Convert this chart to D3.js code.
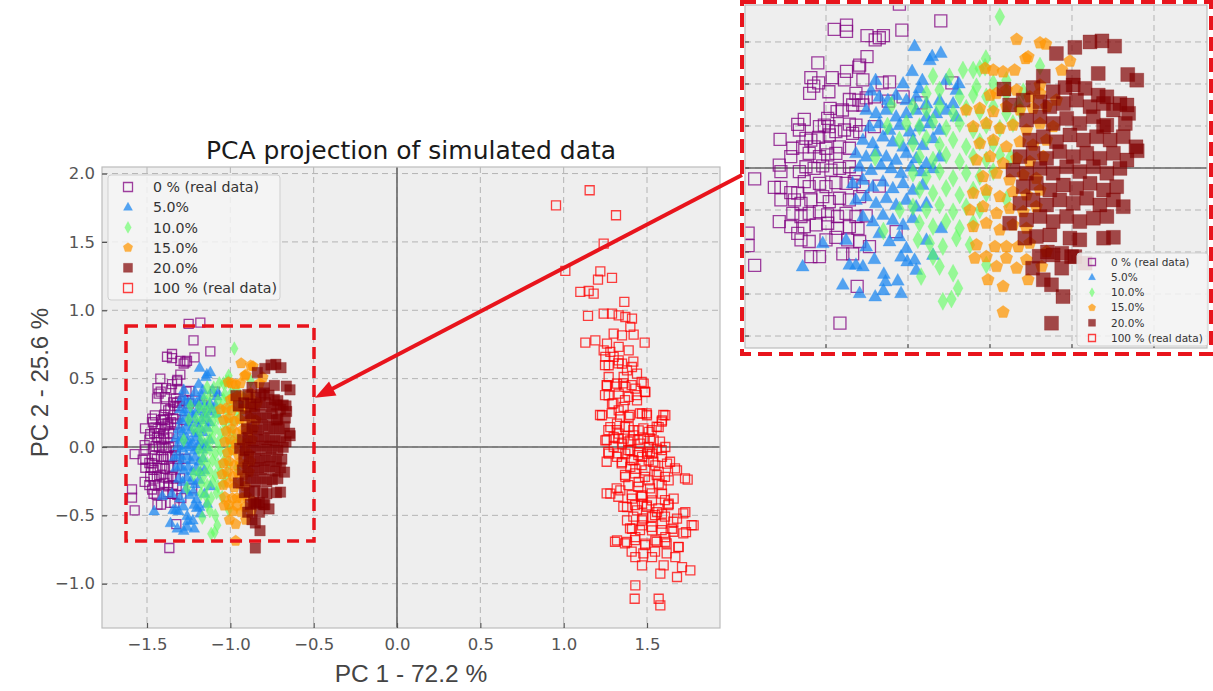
<!DOCTYPE html>
<html>
<head>
<meta charset="utf-8">
<script src="https://cdn.jsdelivr.net/npm/d3@7"></script>
<style>
  body { margin: 0; background: #fff; }
  svg { display: block; }
</style>
</head>
<body>
<div id="chart"></div>
<script>
// values, [PC1, PC2]
var real0 = [[-1.221,0.78],[-1.38,0.66],[-1.35,0.68],[-1.35,0.65],[-1.30,0.63],[-1.26,0.63],[-1.28,0.61],[-1.27,0.62],[-1.215,0.656],[-1.12,0.70],
  [-1.30,0.53],[-1.42,0.50],[-1.32,0.48],[-1.318,0.49],[-1.35,0.46],[-1.437,0.43],[-1.385,0.43],[-1.355,0.42],[-1.31,0.42],[-1.418,0.405],
  [-1.43,0.39],[-1.44,0.355],[-1.393,0.363],[-1.263,0.405],[-1.245,0.41],[-1.093,0.405],[-1.327,0.355],[-1.343,0.326],[-1.32,0.323],[-1.302,0.334],
  [-1.282,0.339],[-1.248,0.318],[-1.212,0.339],[-1.335,0.30],[-1.31,0.30],[-1.168,0.31],[-1.39,0.284],[-1.373,0.268],[-1.36,0.276],[-1.453,0.231],
  [-1.469,0.208],[-1.396,0.236],[-1.393,0.197],[-1.416,0.197],[-1.404,0.204],[-1.343,0.209],[-1.327,0.204],[-1.282,0.197],[-1.465,0.181],[-1.512,0.136],
  [-1.449,0.141],[-1.437,0.133],[-1.418,0.146],[-1.392,0.157],[-1.376,0.173],[-1.355,0.181],[-1.335,0.165],[-1.318,0.173],[-1.481,0.094],[-1.457,0.101],
  [-1.429,0.101],[-1.40,0.094],[-1.367,0.101],[-1.343,0.094],[-1.376,0.07],[-1.486,0.054],[-1.441,0.07],[-1.416,0.054],[-1.396,0.062],[-1.514,0.014],
  [-1.51,-0.017],[-1.465,-0.017],[-1.449,0.006],[-1.429,-0.002],[-1.408,0.01],[-1.388,-0.01],[-1.367,-0.002],[-1.343,0.006],[-1.327,-0.025],[-1.574,-0.052],
  [-1.526,-0.092],[-1.51,-0.092],[-1.486,-0.117],[-1.469,-0.12],[-1.453,-0.065],[-1.441,-0.089],[-1.416,-0.073],[-1.40,-0.089],[-1.376,-0.07],[-1.351,-0.073],
  [-1.331,-0.065],[-1.31,-0.089],[-1.51,-0.152],[-1.477,-0.152],[-1.461,-0.168],[-1.437,-0.152],[-1.408,-0.136],[-1.392,-0.16],[-1.367,-0.144],[-1.343,-0.152],
  [-1.318,-0.136],[-1.481,-0.216],[-1.461,-0.231],[-1.441,-0.216],[-1.416,-0.208],[-1.396,-0.223],[-1.372,-0.231],[-1.351,-0.216],[-1.327,-0.231],[-1.302,-0.228],
  [-1.514,-0.255],[-1.486,-0.279],[-1.453,-0.279],[-1.424,-0.271],[-1.396,-0.263],[-1.372,-0.287],[-1.343,-0.279],[-1.322,-0.287],[-1.469,-0.311],[-1.461,-0.342],
  [-1.441,-0.35],[-1.40,-0.342],[-1.376,-0.33],[-1.347,-0.342],[-1.294,-0.374],[-1.437,-0.422],[-1.416,-0.422],[-1.359,-0.409],[-1.335,-0.409],[-1.574,-0.464],
  [-1.324,-0.564],[-1.366,-0.739],[-1.27,-0.086],[-1.229,-0.303],[-1.318,-0.35],[-1.25,0.90],[-1.18,0.91],[-1.59,-0.31],[-1.59,-0.37]];

var sim5 = [[-1.184,0.58],[-1.147,0.513],[-1.141,0.532],[-1.12,0.548],[-1.19,0.461],[-1.212,0.402],[-1.279,0.418],[-1.172,0.379],[-1.165,0.418],[-1.107,0.418],
  [-1.082,0.371],[-1.076,0.402],[-1.29,0.368],[-1.27,0.339],[-1.249,0.323],[-1.229,0.347],[-1.204,0.323],[-1.18,0.339],[-1.155,0.307],[-1.123,0.323],
  [-1.09,0.307],[-1.302,0.276],[-1.278,0.26],[-1.253,0.276],[-1.229,0.244],[-1.204,0.26],[-1.18,0.276],[-1.155,0.244],[-1.131,0.26],[-1.107,0.276],
  [-1.082,0.244],[-1.294,0.197],[-1.27,0.212],[-1.245,0.181],[-1.221,0.204],[-1.196,0.173],[-1.172,0.197],[-1.147,0.212],[-1.123,0.181],[-1.31,0.133],
  [-1.286,0.117],[-1.261,0.149],[-1.237,0.125],[-1.212,0.101],[-1.188,0.133],[-1.164,0.109],[-1.139,0.141],[-1.327,0.07],[-1.302,0.054],[-1.278,0.078],
  [-1.253,0.054],[-1.229,0.038],[-1.204,0.07],[-1.18,0.046],[-1.155,0.022],[-1.123,0.054],[-1.318,0.006],[-1.29,-0.01],[-1.266,0.014],[-1.241,-0.002],
  [-1.217,-0.025],[-1.192,0.006],[-1.168,-0.017],[-1.139,-0.002],[-1.335,-0.073],[-1.31,-0.057],[-1.286,-0.089],[-1.261,-0.065],[-1.237,-0.097],[-1.212,-0.073],
  [-1.188,-0.105],[-1.164,-0.081],[-1.327,-0.152],[-1.302,-0.136],[-1.278,-0.168],[-1.253,-0.144],[-1.229,-0.176],[-1.204,-0.152],[-1.18,-0.184],[-1.31,-0.231],
  [-1.286,-0.255],[-1.261,-0.223],[-1.237,-0.247],[-1.212,-0.271],[-1.188,-0.239],[-1.408,-0.358],[-1.351,-0.342],[-1.302,-0.374],[-1.27,-0.311],[-1.245,-0.35],
  [-1.221,-0.326],[-1.204,-0.382],[-1.457,-0.469],[-1.343,-0.461],[-1.327,-0.461],[-1.31,-0.469],[-1.282,-0.434],[-1.217,-0.422],[-1.184,-0.437],[-1.359,-0.556],
  [-1.318,-0.596],[-1.28,-0.612],[-1.26,-0.583],[-1.217,-0.596],[-1.259,-0.504],[-1.255,-0.54],[-1.225,-0.536],[-1.202,-0.445],[-1.18,-0.485],[-1.155,-0.342],
  [-1.139,-0.414],[-1.119,-0.287],[-1.155,-0.168]];

var sim10 = [[-0.976,0.72],[-1.01,0.521],[-1.012,0.48],[-1.066,0.466],[-1.041,0.466],[-1.025,0.474],[-0.878,0.485],[-1.139,0.437],[-1.099,0.434],[-1.033,0.387],
  [-0.992,0.403],[-0.96,0.418],[-1.155,0.355],[-1.123,0.371],[-1.074,0.339],[-1.041,0.347],[-1.009,0.339],[-0.96,0.355],[-0.919,0.363],[-1.188,0.292],
  [-1.155,0.276],[-1.123,0.292],[-1.09,0.26],[-1.058,0.284],[-1.025,0.268],[-0.992,0.292],[-0.96,0.26],[-0.927,0.276],[-1.204,0.212],[-1.172,0.197],
  [-1.139,0.22],[-1.107,0.189],[-1.074,0.212],[-1.041,0.181],[-1.009,0.204],[-0.976,0.189],[-0.944,0.212],[-1.221,0.133],[-1.188,0.117],[-1.155,0.141],
  [-1.123,0.109],[-1.09,0.133],[-1.058,0.101],[-1.025,0.125],[-0.992,0.117],[-1.172,0.054],[-1.139,0.038],[-1.107,0.062],[-1.074,0.03],[-1.041,0.054],
  [-1.009,0.038],[-0.976,0.062],[-1.188,-0.025],[-1.155,-0.041],[-1.123,-0.017],[-1.09,-0.049],[-1.058,-0.025],[-1.025,-0.041],[-0.992,-0.017],[-1.172,-0.105],
  [-1.139,-0.12],[-1.107,-0.097],[-1.074,-0.128],[-1.041,-0.105],[-1.009,-0.12],[-1.188,-0.184],[-1.155,-0.2],[-1.123,-0.176],[-1.09,-0.208],[-1.058,-0.184],
  [-1.025,-0.2],[-1.172,-0.263],[-1.139,-0.279],[-1.107,-0.255],[-1.074,-0.287],[-1.041,-0.263],[-1.176,-0.342],[-1.147,-0.358],[-1.115,-0.374],[-1.082,-0.334],
  [-1.049,-0.366],[-1.168,-0.517],[-1.123,-0.469],[-1.09,-0.501],[-1.078,-0.572],[-1.115,-0.635],[-1.094,-0.624],[-1.139,-0.422],[-1.009,-0.461],
  [-1.25,0.2],[-1.28,0.05],[-1.22,-0.2],[-1.26,-0.3],[-1.24,0.3],[-0.95,0.05],[-0.96,-0.15],[-0.93,0.3]];

var sim15 = [[-0.935,0.612],[-0.878,0.596],[-0.864,0.59],[-0.913,0.521],[-0.907,0.529],[-0.805,0.509],[-1.012,0.474],[-0.992,0.466],[-0.968,0.458],[-0.94,0.466],
  [-0.878,0.395],[-0.825,0.466],[-1.0,0.347],[-0.984,0.355],[-0.96,0.371],[-0.935,0.371],[-0.903,0.339],[-0.878,0.355],[-0.838,0.323],[-1.058,0.276],
  [-1.025,0.284],[-0.992,0.268],[-0.96,0.292],[-0.927,0.276],[-0.895,0.284],[-0.862,0.292],[-1.041,0.197],[-1.009,0.212],[-0.976,0.189],[-0.944,0.204],
  [-0.911,0.181],[-0.878,0.212],[-0.846,0.197],[-1.025,0.117],[-0.992,0.133],[-0.96,0.101],[-0.927,0.125],[-0.895,0.109],[-0.862,0.133],[-1.033,0.038],
  [-1.0,0.054],[-0.968,0.022],[-0.935,0.046],[-0.903,0.03],[-0.87,0.054],[-1.017,-0.041],[-0.984,-0.025],[-0.952,-0.057],[-0.919,-0.033],[-0.887,-0.049],
  [-1.041,-0.12],[-1.009,-0.105],[-0.976,-0.136],[-0.944,-0.113],[-0.911,-0.128],[-0.878,-0.105],[-1.049,-0.2],[-1.017,-0.184],[-0.984,-0.216],[-0.952,-0.192],
  [-0.919,-0.208],[-0.887,-0.184],[-1.041,-0.279],[-1.009,-0.263],[-0.976,-0.295],[-0.944,-0.271],[-0.911,-0.287],[-1.033,-0.366],[-0.988,-0.374],[-0.96,-0.374],
  [-0.931,-0.374],[-0.903,-0.358],[-0.862,-0.398],[-1.037,-0.429],[-1.009,-0.422],[-0.984,-0.469],[-0.96,-0.429],[-0.935,-0.477],[-0.911,-0.437],[-0.874,-0.469],
  [-1.005,-0.532],[-0.968,-0.564],[-0.907,-0.532],[-0.968,-0.686]];

var sim20 = [[-0.756,0.6],[-0.727,0.605],[-0.696,0.58],[-0.793,0.574],[-0.838,0.545],[-0.87,0.437],[-0.797,0.434],[-0.736,0.45],[-0.664,0.445],[-0.642,0.418],
  [-0.966,0.376],[-0.895,0.383],[-0.846,0.363],[-0.817,0.383],[-0.797,0.395],[-0.768,0.379],[-0.736,0.347],[-0.715,0.339],[-0.683,0.307],[-0.666,0.30],
  [-0.952,0.30],[-0.919,0.323],[-0.878,0.315],[-0.854,0.292],[-0.821,0.307],[-0.789,0.323],[-0.756,0.292],[-0.723,0.307],[-0.699,0.276],[-0.662,0.26],
  [-0.67,0.212],[-0.715,0.204],[-0.911,0.228],[-0.878,0.244],[-0.846,0.212],[-0.813,0.236],[-0.781,0.212],[-0.748,0.244],[-0.723,0.197],[-0.903,0.133],
  [-0.87,0.149],[-0.838,0.125],[-0.805,0.157],[-0.772,0.133],[-0.74,0.149],[-0.707,0.133],[-0.675,0.149],[-0.644,0.101],[-0.641,0.082],[-0.927,0.054],
  [-0.895,0.07],[-0.862,0.046],[-0.83,0.078],[-0.797,0.054],[-0.764,0.07],[-0.732,0.046],[-0.699,0.07],[-0.666,0.038],[-0.944,-0.01],[-0.911,-0.025],
  [-0.878,-0.002],[-0.846,-0.025],[-0.813,0.006],[-0.781,-0.017],[-0.748,0.006],[-0.715,-0.025],[-0.683,-0.002],[-0.919,-0.089],[-0.887,-0.073],[-0.854,-0.105],
  [-0.821,-0.081],[-0.789,-0.097],[-0.756,-0.073],[-0.723,-0.105],[-0.691,-0.089],[-0.675,-0.184],[-0.927,-0.168],[-0.895,-0.152],[-0.862,-0.176],[-0.83,-0.152],
  [-0.797,-0.168],[-0.764,-0.144],[-0.732,-0.176],[-0.699,-0.152],[-0.952,-0.263],[-0.911,-0.247],[-0.878,-0.231],[-0.846,-0.255],[-0.813,-0.231],[-0.781,-0.255],
  [-0.748,-0.239],[-0.715,-0.231],[-0.915,-0.334],[-0.887,-0.326],[-0.854,-0.319],[-0.805,-0.334],[-0.781,-0.342],[-0.723,-0.334],[-0.699,-0.33],[-0.846,-0.414],
  [-0.825,-0.406],[-0.801,-0.422],[-0.793,-0.422],[-0.825,-0.477],[-0.768,-0.453],[-0.896,-0.477],[-0.87,-0.532],[-0.85,-0.556],[-0.822,-0.612],[-0.85,-0.739],
  [-0.86,-0.40],[-0.88,-0.42]];

var real100 = [[1.156,1.878],[0.954,1.768],[1.314,1.695],[1.24,1.488],[1.01,1.288],[1.22,1.285],[1.206,1.224],[1.29,1.237],[1.1,1.134],[1.15,1.141],
  [1.18,1.122],[1.364,1.061],[1.146,0.959],[1.24,0.976],[1.29,0.976],[1.33,0.963],[1.37,0.951],[1.41,0.939],[1.13,0.763],[1.19,0.78],
  [1.26,0.756],[1.3,0.829],[1.35,0.817],[1.4,0.878],[1.486,0.763],[1.42,0.822],[1.24,0.707],[1.28,0.695],[1.33,0.732],[1.39,0.707],
  [1.25,0.659],[1.33,0.634],[1.27,0.598],[1.35,0.61],[1.41,0.585],[1.44,0.537],[1.26,0.451],[1.32,0.463],[1.37,0.439],[1.43,0.427],
  [1.48,0.463],[1.49,0.402],[1.27,0.378],[1.33,0.39],[1.39,0.366],[1.44,0.341],[1.23,0.232],[1.33,0.268],[1.39,0.22],[1.47,0.244],
  [1.5,0.232],[1.61,0.232],[1.59,0.195],[1.28,0.146],[1.33,0.098],[1.39,0.146],[1.45,0.122],[1.51,0.11],[1.57,0.146],[1.25,0.049],
  [1.3,0.0],[1.35,0.024],[1.4,0.049],[1.46,0.024],[1.51,0.0],[1.56,-0.012],[1.61,0.0],[1.27,-0.049],[1.32,-0.073],[1.37,-0.049],
  [1.42,-0.098],[1.47,-0.073],[1.53,-0.049],[1.59,-0.073],[1.43,-0.159],[1.49,-0.171],[1.55,-0.134],[1.62,-0.122],[1.68,-0.171],[1.744,-0.239],
  [1.37,-0.22],[1.45,-0.256],[1.51,-0.244],[1.57,-0.268],[1.63,-0.244],[1.28,-0.341],[1.34,-0.317],[1.41,-0.378],[1.47,-0.354],[1.53,-0.39],
  [1.59,-0.341],[1.66,-0.378],[1.38,-0.439],[1.44,-0.463],[1.5,-0.427],[1.56,-0.476],[1.63,-0.415],[1.73,-0.476],[1.78,-0.573],[1.68,-0.524],
  [1.734,-0.622],[1.41,-0.598],[1.47,-0.573],[1.53,-0.61],[1.59,-0.561],[1.65,-0.598],[1.32,-0.683],[1.38,-0.695],[1.43,-0.659],[1.49,-0.707],
  [1.55,-0.683],[1.61,-0.695],[1.69,-0.732],[1.43,-0.805],[1.47,-0.866],[1.53,-0.805],[1.6,-0.866],[1.67,-0.805],[1.71,-0.878],[1.76,-0.902],
  [1.58,-0.927],[1.68,-0.951],[1.43,-1.012],[1.426,-1.11],[1.57,-1.11],[1.58,-1.159],[1.3,0.073],[1.36,0.061],[1.42,0.085],[1.48,0.061],
  [1.54,0.049],[1.4,-0.024],[1.45,-0.037],[1.5,-0.049],[1.35,-0.11],[1.4,-0.146],[1.51,-0.098],[1.57,-0.183],[1.47,-0.415],[1.53,-0.512],
  [1.59,-0.488],[1.47,-0.537],[1.38,-0.537],[1.61,-0.659],[1.29,0.317],[1.36,0.293],[1.32,0.171],[1.27,0.512],[1.36,0.512],[1.3,0.659],[1.38,0.561],
  [1.248,0.599],[1.328,0.612],[1.418,0.624],[1.258,0.453],[1.308,0.441],[1.358,0.465],[1.408,0.453],[1.468,0.477],[1.488,0.404],[1.248,0.38],
  [1.298,0.319],[1.368,0.343],[1.438,0.38],[1.218,0.234],[1.288,0.246],[1.338,0.221],[1.398,0.234],[1.458,0.246],[1.498,0.246],[1.598,0.234],
  [1.588,0.185],[1.268,0.124],[1.318,0.124],[1.368,0.148],[1.418,0.124],[1.478,0.136],[1.528,0.124],[1.558,0.148],[1.258,0.051],[1.328,0.063],
  [1.388,0.039],[1.448,0.051],[1.518,0.063],[1.578,0.039],[1.268,-0.035],[1.328,-0.047],[1.388,-0.023],[1.448,-0.059],[1.518,-0.035],[1.588,-0.023],
  [1.258,-0.108],[1.348,-0.12],[1.408,-0.096],[1.468,-0.132],[1.538,-0.108],[1.638,-0.108],[1.668,-0.157],[1.368,-0.205],[1.428,-0.193],[1.488,-0.218],
  [1.558,-0.205],[1.608,-0.218],[1.728,-0.23],[1.318,-0.303],[1.388,-0.279],[1.448,-0.291],[1.518,-0.303],[1.588,-0.279],[1.258,-0.34],[1.328,-0.364],
  [1.408,-0.352],[1.468,-0.364],[1.528,-0.34],[1.608,-0.388],[1.358,-0.437],[1.428,-0.425],[1.498,-0.437],[1.568,-0.449],[1.628,-0.425],[1.418,-0.51],
  [1.478,-0.523],[1.548,-0.498],[1.608,-0.51],[1.718,-0.486],[1.658,-0.547],[1.768,-0.571],[1.398,-0.596],[1.458,-0.608],[1.528,-0.584],[1.588,-0.608],
  [1.658,-0.62],[1.718,-0.632],[1.308,-0.693],[1.368,-0.705],[1.428,-0.681],[1.488,-0.718],[1.558,-0.693],[1.618,-0.705],[1.688,-0.73],[1.408,-0.766],
  [1.478,-0.778],[1.548,-0.766],[1.618,-0.778]];

var seriesLabels = ["0 % (real data)", "5.0%", "10.0%", "15.0%", "20.0%", "100 % (real data)"];
var xTicks = [-1.5, -1.0, -0.5, 0.0, 0.5, 1.0, 1.5];
var yTicks = [-1.0, -0.5, 0.0, 0.5, 1.0, 1.5, 2.0];
var insetXTicks = [-1.4, -1.2, -1.0, -0.8, -0.6];
var insetYTicks = [-0.8, -0.6, -0.4, -0.2, 0.0, 0.2, 0.4, 0.6];
// zoomed region shown in the inset
var zoomX = [-1.626, -0.498];
var zoomY = [-0.688, 0.885];

var allSeries = [real0, sim5, sim10, sim15, sim20, real100];

// marker look for each series
var styles = [
  { shape: "square",   color: "#800080", filled: false, op: 0.75, size: 9,    isize: 12 },
  { shape: "triangle", color: "#1e88f0", filled: true,  op: 0.75, size: 11,   isize: 13 },
  { shape: "diamond",  color: "#5cff5c", filled: true,  op: 0.6,  size: 11.5, isize: 15 },
  { shape: "pentagon", color: "#ff9500", filled: true,  op: 0.72, size: 10.5, isize: 12 },
  { shape: "square",   color: "#800000", filled: true,  op: 0.7,  size: 10.5, isize: 14 },
  { shape: "square",   color: "#ff0000", filled: false, op: 0.75, size: 9,    isize: 12 }
];

var width = 1213, height = 691;
var red = "#e8141c";

var svg = d3.select("#chart").append("svg")
  .attr("width", width)
  .attr("height", height);

// marker path centered on 0,0
function shapePath(shape, s) {
  var h = s / 2;
  if (shape === "square") {
    return "M" + (-h) + "," + (-h) + "H" + h + "V" + h + "H" + (-h) + "Z";
  }
  if (shape === "triangle") {
    return "M0," + (-s * 0.55) + "L" + (s * 0.5) + "," + (s * 0.35) + "L" + (-s * 0.5) + "," + (s * 0.35) + "Z";
  }
  if (shape === "diamond") {
    return "M0," + (-s * 0.6) + "L" + (s * 0.33) + ",0L0," + (s * 0.6) + "L" + (-s * 0.33) + ",0Z";
  }
  // pentagon
  var pts = d3.range(5).map(function(i) {
    var a = -Math.PI / 2 + i * 2 * Math.PI / 5;
    return [h * 1.1 * Math.cos(a), h * 1.1 * Math.sin(a)];
  });
  return "M" + pts.map(function(p) { return p[0].toFixed(2) + "," + p[1].toFixed(2); }).join("L") + "Z";
}

function styleMarker(sel, st, size) {
  sel.attr("d", shapePath(st.shape, size))
    .attr("fill", st.filled ? st.color : "none")
    .attr("fill-opacity", st.filled ? st.op : 0)
    .attr("stroke", st.color)
    .attr("stroke-opacity", st.filled ? st.op * 0.6 : st.op)
    .attr("stroke-width", st.filled ? 0.6 : 1.3);
}

// draws background, grid, zero lines and all points for one panel
function drawPanel(g, xs, ys, xt, yt, clipId, sizeKey, showZeroX) {
  var x0 = xs.range()[0], x1 = xs.range()[1];
  var y0 = ys.range()[0], y1 = ys.range()[1];

  g.append("clipPath").attr("id", clipId)
    .append("rect").attr("x", x0).attr("y", y0).attr("width", x1 - x0).attr("height", y1 - y0);

  g.append("rect")
    .attr("x", x0).attr("y", y0).attr("width", x1 - x0).attr("height", y1 - y0)
    .attr("fill", "#eeeeee");

  g.selectAll(".gx").data(xt).enter().append("line")
    .attr("x1", function(d) { return xs(d); }).attr("x2", function(d) { return xs(d); })
    .attr("y1", y0).attr("y2", y1)
    .attr("stroke", "#b4b4b4").attr("stroke-width", 1).attr("stroke-dasharray", "6,4");
  g.selectAll(".gy").data(yt).enter().append("line")
    .attr("y1", function(d) { return ys(d); }).attr("y2", function(d) { return ys(d); })
    .attr("x1", x0).attr("x2", x1)
    .attr("stroke", "#b4b4b4").attr("stroke-width", 1).attr("stroke-dasharray", "6,4");

  g.append("line")
    .attr("x1", x0).attr("x2", x1).attr("y1", ys(0)).attr("y2", ys(0))
    .attr("stroke", "#666").attr("stroke-width", 1.6);
  if (showZeroX) {
    g.append("line")
      .attr("x1", xs(0)).attr("x2", xs(0)).attr("y1", y0).attr("y2", y1)
      .attr("stroke", "#666").attr("stroke-width", 1.6);
  }

  var pts = g.append("g").attr("clip-path", "url(#" + clipId + ")");
  allSeries.forEach(function(data, i) {
    var st = styles[i];
    pts.append("g").selectAll("path").data(data).enter().append("path")
      .attr("transform", function(d) { return "translate(" + xs(d[0]) + "," + ys(d[1]) + ")"; })
      .call(styleMarker, st, st[sizeKey]);
  });

  g.append("rect")
    .attr("x", x0).attr("y", y0).attr("width", x1 - x0).attr("height", y1 - y0)
    .attr("fill", "none").attr("stroke", "#bcbcbc").attr("stroke-width", 1.2);
}

// ---------- main plot ----------
var mx = d3.scaleLinear().domain([-1.77, 1.938]).range([102, 720]);
var my = d3.scaleLinear().domain([2.048, -1.324]).range([167, 628]);

var main = svg.append("g");
drawPanel(main, mx, my, xTicks, yTicks, "clipMain", "size", true);

var fmt = d3.format(".1f");
var xAxis = main.append("g")
  .attr("transform", "translate(0," + my.range()[1] + ")")
  .call(d3.axisBottom(mx).tickValues(xTicks).tickFormat(fmt).tickSizeInner(-5).tickSizeOuter(0).tickPadding(10));
var yAxis = main.append("g")
  .attr("transform", "translate(" + mx.range()[0] + ",0)")
  .call(d3.axisLeft(my).tickValues(yTicks).tickFormat(fmt).tickSizeInner(-5).tickSizeOuter(0).tickPadding(7));
[xAxis, yAxis].forEach(function(ax) {
  ax.select(".domain").remove();
  ax.selectAll(".tick line").attr("stroke", "#555").attr("stroke-width", 1.2);
  ax.selectAll(".tick text")
    .attr("fill", "#555")
    .style("font-family", "'DejaVu Sans', sans-serif")
    .style("font-size", "16.5px");
});

main.append("text")
  .attr("x", (mx.range()[0] + mx.range()[1]) / 2)
  .attr("y", 159)
  .attr("text-anchor", "middle")
  .attr("fill", "#1a1a1a")
  .style("font-family", "'DejaVu Sans', sans-serif")
  .style("font-size", "25px")
  .text("PCA projection of simulated data");

main.append("text")
  .attr("x", (mx.range()[0] + mx.range()[1]) / 2)
  .attr("y", 682)
  .attr("text-anchor", "middle")
  .attr("fill", "#444")
  .style("font-family", "'Liberation Sans', Arial, sans-serif")
  .style("font-size", "24.5px")
  .text("PC 1 - 72.2 %");

main.append("text")
  .attr("transform", "translate(48," + ((my.range()[0] + my.range()[1]) / 2 - 15) + ") rotate(-90)")
  .attr("text-anchor", "middle")
  .attr("fill", "#444")
  .style("font-family", "'Liberation Sans', Arial, sans-serif")
  .style("font-size", "24px")
  .text("PC 2 - 25.6 %");

// legend
function drawLegend(g, lx, ly, lw, lh, rowY0, rowStep, markX, textX, fontSize, mSize) {
  g.append("rect")
    .attr("x", lx).attr("y", ly).attr("width", lw).attr("height", lh)
    .attr("rx", 3)
    .attr("fill", "#f4f4f4").attr("fill-opacity", 0.85)
    .attr("stroke", "#cfcfcf").attr("stroke-width", 1);
  seriesLabels.forEach(function(lab, i) {
    var yy = rowY0 + i * rowStep;
    g.append("path")
      .attr("transform", "translate(" + markX + "," + yy + ")")
      .call(styleMarker, styles[i], mSize * (styles[i].shape === "diamond" ? 1.1 : 1));
    g.append("text")
      .attr("x", textX).attr("y", yy)
      .attr("dy", "0.36em")
      .attr("fill", "#333")
      .style("font-family", "'DejaVu Sans', sans-serif")
      .style("font-size", fontSize + "px")
      .text(lab);
  });
}
drawLegend(main, 108, 175, 172, 125, 187, 20.2, 128, 153, 14.2, 9);

// zoom box on the main plot
var boxX0 = mx(zoomX[0]), boxX1 = mx(zoomX[1]);
var boxY0 = my(zoomY[1]), boxY1 = my(zoomY[0]);
main.append("rect")
  .attr("x", boxX0).attr("y", boxY0)
  .attr("width", boxX1 - boxX0).attr("height", boxY1 - boxY0)
  .attr("fill", "none")
  .attr("stroke", red).attr("stroke-width", 3.5)
  .attr("stroke-dasharray", "12,7");

// ---------- inset ----------
var ix = d3.scaleLinear().domain([-1.5976, -0.4707]).range([745, 1207]);
var iy = d3.scaleLinear().domain([0.776, -0.857]).range([5, 348]);

var inset = svg.append("g");
inset.append("rect")
  .attr("x", 742).attr("y", 2).attr("width", 469).attr("height", 352)
  .attr("fill", "#fff");
drawPanel(inset, ix, iy, insetXTicks, insetYTicks, "clipInset", "isize", false);

// small inward ticks on the inset
inset.selectAll(".itx").data(insetXTicks).enter().append("line")
  .attr("x1", function(d) { return ix(d); }).attr("x2", function(d) { return ix(d); })
  .attr("y1", iy.range()[1]).attr("y2", iy.range()[1] - 4)
  .attr("stroke", "#555").attr("stroke-width", 1.2);
inset.selectAll(".ity").data(insetYTicks).enter().append("line")
  .attr("y1", function(d) { return iy(d); }).attr("y2", function(d) { return iy(d); })
  .attr("x1", ix.range()[0]).attr("x2", ix.range()[0] + 4)
  .attr("stroke", "#555").attr("stroke-width", 1.2);

drawLegend(inset, 1077, 253, 131, 93, 262, 15.2, 1092, 1111, 10.5, 7);

inset.append("rect")
  .attr("x", 742).attr("y", 2).attr("width", 469).attr("height", 352)
  .attr("fill", "none")
  .attr("stroke", red).attr("stroke-width", 4)
  .attr("stroke-dasharray", "14,7");

// ---------- arrow from inset to zoom box ----------
var arrowStart = [742, iy(0) + 7];
var arrowEnd = [boxX1 + 1, my(0.36)];
var dx = arrowEnd[0] - arrowStart[0], dy = arrowEnd[1] - arrowStart[1];
var len = Math.sqrt(dx * dx + dy * dy);
var ux = dx / len, uy = dy / len;
var headL = 20, headW = 8;
var baseX = arrowEnd[0] - ux * headL, baseY = arrowEnd[1] - uy * headL;

svg.append("line")
  .attr("x1", arrowStart[0]).attr("y1", arrowStart[1])
  .attr("x2", baseX + ux * 2).attr("y2", baseY + uy * 2)
  .attr("stroke", red).attr("stroke-width", 4);
svg.append("path")
  .attr("d", "M" + arrowEnd[0] + "," + arrowEnd[1] +
    "L" + (baseX - uy * headW) + "," + (baseY + ux * headW) +
    "L" + (baseX + uy * headW) + "," + (baseY - ux * headW) + "Z")
  .attr("fill", red);
</script>
</body>
</html>
